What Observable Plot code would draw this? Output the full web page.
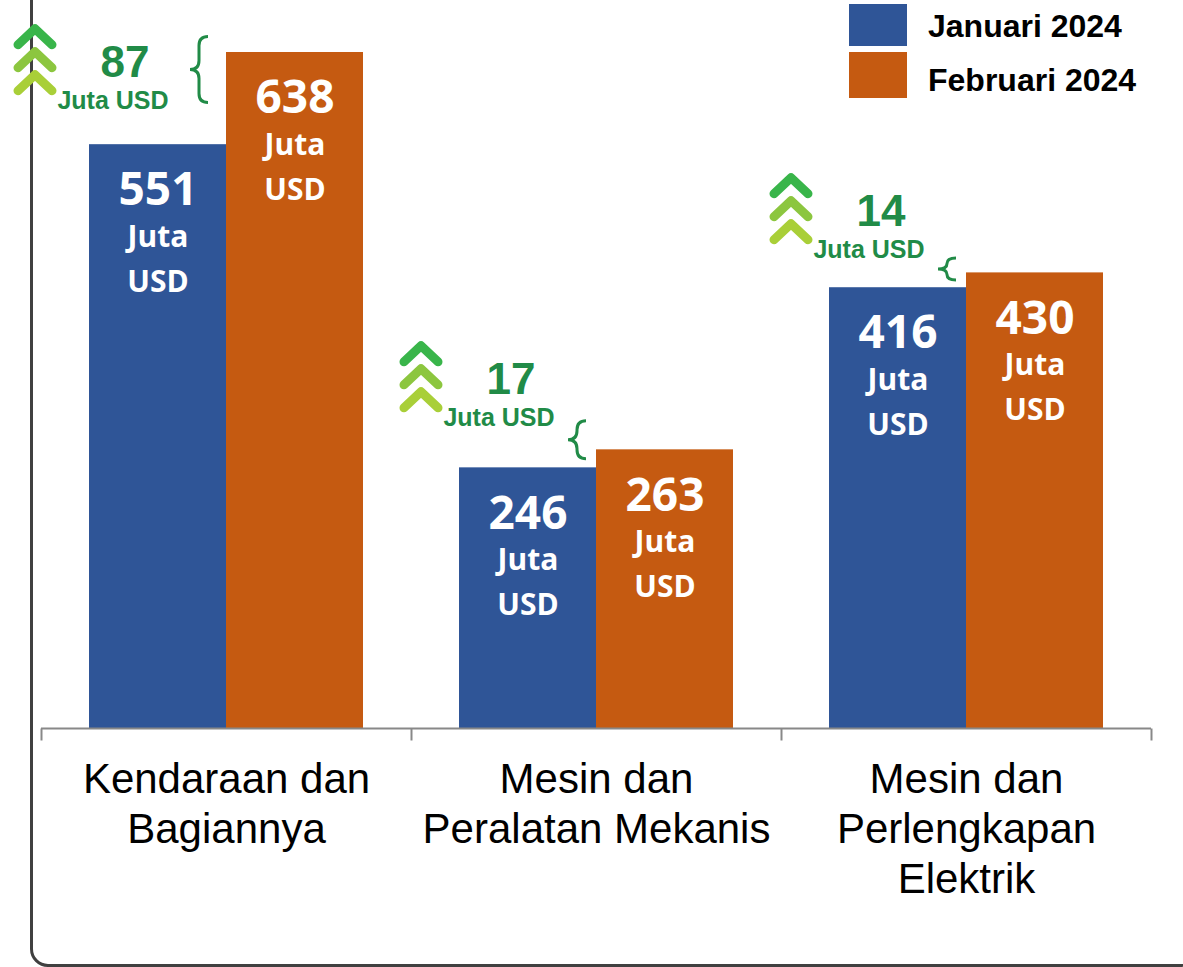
<!DOCTYPE html>
<html>
<head>
<meta charset="utf-8">
<script src="https://cdn.jsdelivr.net/npm/d3@7"></script>
<script src="https://cdn.jsdelivr.net/npm/@observablehq/plot@0.6"></script>
<style>
  html, body { margin: 0; padding: 0; background: #fff; overflow: hidden; }
  #wrap { position: relative; width: 1183px; height: 967px; overflow: hidden; background: #fff; }
  #card { position: absolute; left: 30px; top: -30px; width: 1168px; height: 997px; box-sizing: border-box;
          border: 3px solid #404040; border-radius: 18px; }
  #chart { position: absolute; left: 0; top: 0; }
  .lg-sw { position: absolute; left: 849px; width: 58px; }
  .lg-tx { position: absolute; left: 928px; font-family: "Liberation Sans", Arial, sans-serif; font-weight: bold;
           font-size: 32px; color: #000; line-height: 1; white-space: nowrap; }
</style>
</head>
<body>
<div id="wrap">
  <div id="card"></div>
  <div id="chart"></div>
  <div id="legend"></div>
</div>
<script>
// ---------- data ----------
const categories = ["Kendaraan dan Bagiannya", "Mesin dan Peralatan Mekanis", "Mesin dan Perlengkapan Elektrik"];
const categoryLabels = ["Kendaraan dan\nBagiannya", "Mesin dan\nPeralatan Mekanis", "Mesin dan\nPerlengkapan\nElektrik"];
const series = ["Januari 2024", "Februari 2024"];
const janValues = [551, 246, 416];
const febValues = [638, 263, 430];
const unitWords = ["Juta", "USD"];
const unitLabel = "Juta USD";

// ---------- styles / layout ----------
const seriesColors = ["#2f5597", "#c55a11"];
const green = "#218b47";
const chevronColors = ["#39b54a", "#8cc63f", "#a9cf38"];
const annotLayout = [
  {shift: -16, dy: -82, braceShift: -8, braceDy: 17, braceH: 66},
  {shift: 0, dy: -88, braceShift: 0, braceDy: -10, braceH: 38},
  {shift: 0, dy: -76, braceShift: 0, braceDy: -4, braceH: 22}
];

const table = categories.flatMap((c, i) =>
  series.map((s, j) => ({category: c, series: s, value: [janValues, febValues][j][i]})));
const annots = categories.map((c, i) => ({category: c, jan: janValues[i], feb: febValues[i], diff: febValues[i] - janValues[i]}));

const chevron = {draw(ctx) { ctx.moveTo(-17, 8); ctx.lineTo(0, -8); ctx.lineTo(17, 8); }};
const tickSym = {draw(ctx) { ctx.moveTo(0, 0); ctx.lineTo(0, 12); }};
function braceSym(w, h) {
  return {draw(ctx) {
    const r = Math.min(w / 2, h / 4);
    ctx.moveTo(w / 2, -h / 2);
    ctx.quadraticCurveTo(0, -h / 2, 0, -h / 2 + r);
    ctx.lineTo(0, -r);
    ctx.quadraticCurveTo(0, 0, -w / 2, 0);
    ctx.quadraticCurveTo(0, 0, 0, r);
    ctx.lineTo(0, h / 2 - r);
    ctx.quadraticCurveTo(0, h / 2, w / 2, h / 2);
  }};
}

const numFont = "'Open Sans', 'DejaVu Sans', sans-serif";
const arial = "'Liberation Sans', Arial, sans-serif";

const marks = [
  Plot.barY(table, {fx: "category", x: "series", y: "value", fill: "series"}),
  Plot.ruleY([0], {stroke: "#888", strokeWidth: 2}),
  Plot.dot([0], {frameAnchor: "bottom-left", symbol: tickSym, stroke: "#888", strokeWidth: 2, fill: "none"}),
  Plot.dot([categories[categories.length - 1]], {fx: d => d, frameAnchor: "bottom-right", symbol: tickSym, stroke: "#888", strokeWidth: 2, fill: "none"}),
  Plot.text(categories, {fx: d => d, text: (d, i) => categoryLabels[i], frameAnchor: "bottom", lineAnchor: "top",
    dy: 29, fontSize: 42, lineHeight: 1.19, fill: "#000", fontFamily: arial}),
  Plot.text(table, {fx: "category", x: "series", y: "value", text: d => String(d.value), dy: 46,
    fill: "white", fontSize: 46, fontWeight: "bold", fontFamily: numFont}),
  Plot.text(table, {fx: "category", x: "series", y: "value", text: () => unitWords[0], dy: 93,
    fill: "white", fontSize: 30, fontWeight: "bold", fontFamily: numFont}),
  Plot.text(table, {fx: "category", x: "series", y: "value", text: () => unitWords[1], dy: 138,
    fill: "white", fontSize: 30, fontWeight: "bold", fontFamily: numFont})
];

annots.forEach((a, i) => {
  const L = annotLayout[i];
  const d = [a];
  const xJan = () => series[0];
  chevronColors.forEach((col, k) => {
    marks.push(Plot.dot(d, {fx: "category", x: xJan, y: "jan", symbol: chevron, stroke: col, fill: "none",
      strokeWidth: 9, strokeLinecap: "round", strokeLinejoin: "round",
      dx: -107 + L.shift, dy: L.dy - 3 + (k - 1) * 23}));
  });
  marks.push(Plot.text(d, {fx: "category", x: xJan, y: "jan", text: r => String(r.diff),
    dx: -17 + L.shift, dy: L.dy, fill: green, fontSize: 44, fontWeight: "bold", fontFamily: arial}));
  marks.push(Plot.text(d, {fx: "category", x: xJan, y: "jan", text: () => unitLabel,
    dx: -29 + L.shift, dy: L.dy + 38, fill: green, fontSize: 25, fontWeight: "bold", fontFamily: arial}));
  marks.push(Plot.dot(d, {fx: "category", x: xJan, y: "feb", symbol: braceSym(18, L.braceH), fill: "none",
    stroke: green, strokeWidth: 3, dx: 49 + L.braceShift, dy: L.braceDy}));
});

const chart = Plot.plot({
  width: 1183,
  height: 967,
  marginTop: 52,
  marginBottom: 239,
  marginLeft: 40,
  marginRight: 31,
  style: {background: "transparent", overflow: "visible"},
  fx: {domain: categories, padding: 0, axis: null},
  x: {domain: series, axis: null, paddingInner: 0, paddingOuter: 0.348},
  y: {domain: [0, 638], axis: null},
  color: {domain: series, range: seriesColors},
  marks
});
document.getElementById("chart").appendChild(chart);

// legend (HTML, above chart)
const lg = document.getElementById("legend");
const swTops = [4, 52], swHeights = [42, 46], txCenters = [26, 80];
series.forEach((s, j) => {
  const sw = document.createElement("div");
  sw.className = "lg-sw";
  sw.style.top = swTops[j] + "px";
  sw.style.height = swHeights[j] + "px";
  sw.style.background = seriesColors[j];
  lg.appendChild(sw);
  const tx = document.createElement("div");
  tx.className = "lg-tx";
  tx.textContent = s;
  tx.style.top = (txCenters[j] - 16) + "px";
  lg.appendChild(tx);
});
</script>
</body>
</html>
